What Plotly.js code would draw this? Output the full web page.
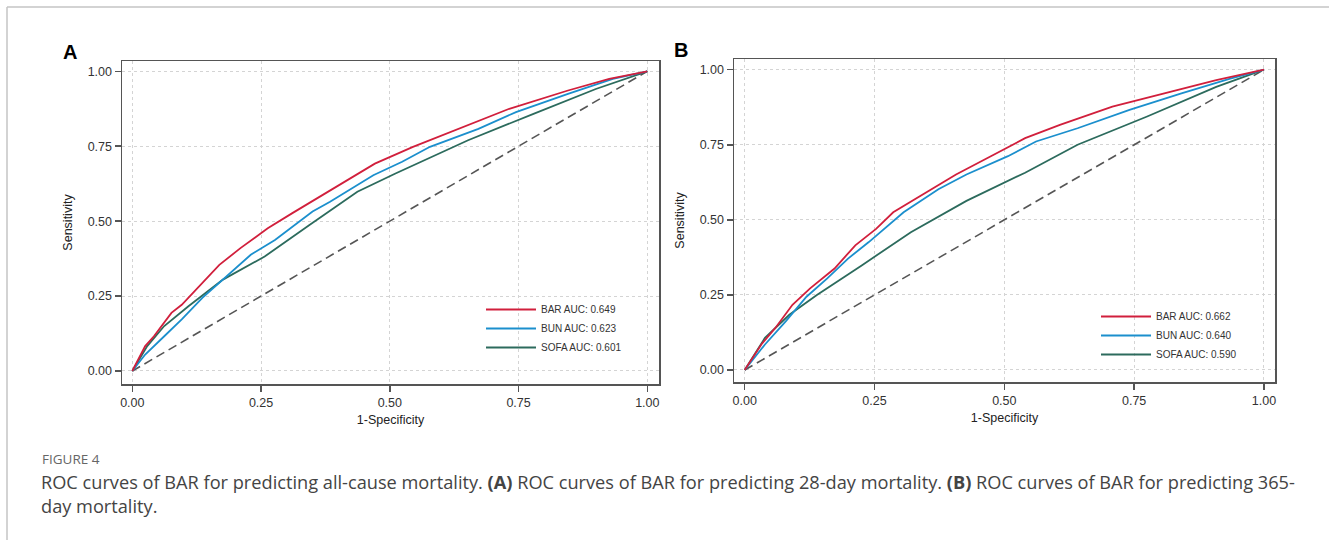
<!DOCTYPE html>
<html>
<head>
<meta charset="utf-8">
<script src="https://cdn.plot.ly/plotly-3.0.1.min.js"></script>
<style>
html,body{margin:0;padding:0;background:#fff;}
#chart{width:1329px;height:540px;}
</style>
</head>
<body>
<div id="chart"></div>
<script>
// ---------- Data ----------
const tickVals = [0, 0.25, 0.5, 0.75, 1];
const tickText = ["0.00", "0.25", "0.50", "0.75", "1.00"];

const refX = [0, 1];
const refY = [0, 1];

// Panel A: 28-day mortality
const A_BAR_x = [0, 0.025, 0.042, 0.076, 0.096, 0.129, 0.169, 0.210, 0.263, 0.310, 0.364, 0.417, 0.471, 0.545, 0.625, 0.732, 0.846, 0.926, 1];
const A_BAR_y = [0, 0.083, 0.116, 0.194, 0.221, 0.282, 0.354, 0.410, 0.476, 0.526, 0.581, 0.637, 0.692, 0.748, 0.803, 0.875, 0.936, 0.975, 1];
const A_BUN_x = [0, 0.025, 0.062, 0.096, 0.136, 0.176, 0.230, 0.277, 0.330, 0.350, 0.384, 0.444, 0.468, 0.524, 0.578, 0.672, 0.745, 0.846, 0.933, 1];
const A_BUN_y = [0, 0.055, 0.116, 0.172, 0.244, 0.305, 0.388, 0.437, 0.504, 0.532, 0.565, 0.626, 0.653, 0.698, 0.748, 0.808, 0.864, 0.925, 0.975, 1];
const A_SOFA_x = [0, 0.029, 0.062, 0.109, 0.176, 0.257, 0.344, 0.437, 0.511, 0.652, 0.779, 0.900, 1];
const A_SOFA_y = [0, 0.083, 0.150, 0.216, 0.305, 0.382, 0.487, 0.598, 0.659, 0.770, 0.858, 0.941, 1];

// Panel B: 365-day mortality
const B_BAR_x = [0, 0.032, 0.059, 0.092, 0.126, 0.173, 0.213, 0.253, 0.286, 0.340, 0.407, 0.474, 0.540, 0.607, 0.708, 0.808, 0.908, 1];
const B_BAR_y = [0, 0.085, 0.140, 0.217, 0.272, 0.338, 0.415, 0.470, 0.525, 0.580, 0.651, 0.712, 0.772, 0.816, 0.877, 0.921, 0.965, 1];
const B_BUN_x = [0, 0.039, 0.079, 0.119, 0.159, 0.199, 0.239, 0.306, 0.373, 0.427, 0.507, 0.561, 0.641, 0.741, 0.841, 0.935, 1];
const B_BUN_y = [0, 0.085, 0.162, 0.244, 0.305, 0.371, 0.426, 0.525, 0.602, 0.651, 0.712, 0.761, 0.805, 0.866, 0.921, 0.970, 1];
const B_SOFA_x = [0, 0.039, 0.086, 0.139, 0.226, 0.320, 0.427, 0.540, 0.641, 0.775, 0.908, 1];
const B_SOFA_y = [0, 0.107, 0.184, 0.250, 0.349, 0.459, 0.563, 0.657, 0.750, 0.844, 0.943, 1];

const namesA = ["BAR AUC: 0.649", "BUN AUC: 0.623", "SOFA AUC: 0.601"];
const namesB = ["BAR AUC: 0.662", "BUN AUC: 0.640", "SOFA AUC: 0.590"];

const panelLabels = ["A", "B"];
const axisTitleX = "1-Specificity";
const axisTitleY = "Sensitivity";
const figLabel = "FIGURE 4";
const captionLine1 = "ROC curves of BAR for predicting all-cause mortality. <b>(A)</b> ROC curves of BAR for predicting 28-day mortality. <b>(B)</b> ROC curves of BAR for predicting 365-";
const captionLine2 = "day mortality.";

// ---------- Styling ----------
const RED = "#d11f3c", BLUE = "#1b8fcd", GREEN = "#2c6b5d", DASH = "#555555";
const FONT = "Liberation Sans, Arial, sans-serif";

function tr(x, y, name, color, xa, ya, leg) {
  return {x: x, y: y, name: name, type: "scatter", mode: "lines",
    line: {color: color, width: 1.8}, xaxis: xa, yaxis: ya, legend: leg, hoverinfo: "skip"};
}
function diag(xa, ya) {
  return {x: refX, y: refY, type: "scatter", mode: "lines", showlegend: false,
    line: {color: DASH, width: 1.6, dash: "9px,5px"}, xaxis: xa, yaxis: ya, hoverinfo: "skip"};
}

const data = [
  diag("x", "y"),
  tr(A_SOFA_x, A_SOFA_y, namesA[2], GREEN, "x", "y", "legend"),
  tr(A_BUN_x, A_BUN_y, namesA[1], BLUE, "x", "y", "legend"),
  tr(A_BAR_x, A_BAR_y, namesA[0], RED, "x", "y", "legend"),
  diag("x2", "y2"),
  tr(B_SOFA_x, B_SOFA_y, namesB[2], GREEN, "x2", "y2", "legend2"),
  tr(B_BUN_x, B_BUN_y, namesB[1], BLUE, "x2", "y2", "legend2"),
  tr(B_BAR_x, B_BAR_y, namesB[0], RED, "x2", "y2", "legend2")
];

function xaxis(domain, range, anchor) {
  return {domain: domain, range: range, anchor: anchor, tickvals: tickVals, ticktext: tickText,
    showline: true, mirror: true, linecolor: "#555", linewidth: 1.5,
    ticks: "outside", ticklen: 6, tickwidth: 1.5, tickcolor: "#555",
    showgrid: true, gridcolor: "#d4d4d4", griddash: "dot", gridwidth: 1, zeroline: false,
    tickfont: {family: FONT, size: 12.5, color: "#333"}, automargin: false,
    title: {text: axisTitleX, font: {family: FONT, size: 12.5, color: "#222"}, standoff: 6}};
}
function yaxis(domain, range, anchor) {
  return {domain: domain, range: range, anchor: anchor, tickvals: tickVals, ticktext: tickText,
    showline: true, mirror: true, linecolor: "#555", linewidth: 1.5,
    ticks: "outside", ticklen: 6, tickwidth: 1.5, tickcolor: "#555",
    showgrid: true, gridcolor: "#d4d4d4", griddash: "dot", gridwidth: 1, zeroline: false,
    tickfont: {family: FONT, size: 12.5, color: "#333"}, automargin: false,
    title: {text: axisTitleY, font: {family: FONT, size: 12.5, color: "#222"}, standoff: 12}};
}

const W = 1329, H = 540;
const legendCommon = {xref: "paper", yref: "paper", xanchor: "left", yanchor: "top",
  bgcolor: "rgba(0,0,0,0)", borderwidth: 0, traceorder: "reversed",
  font: {family: FONT, size: 10, color: "#333"}, itemwidth: 50, tracegroupgap: 0};

const layout = {
  width: W, height: H,
  margin: {l: 0, r: 0, t: 0, b: 0},
  paper_bgcolor: "#fff", plot_bgcolor: "#fff",
  showlegend: true,
  xaxis: xaxis([122 / W, 659 / W], [-0.020, 1.0227], "y"),
  yaxis: yaxis([1 - 384 / H, 1 - 61 / H], [-0.0434, 1.0344], "x"),
  xaxis2: xaxis([734 / W, 1275 / W], [-0.0206, 1.0212], "y2"),
  yaxis2: yaxis([1 - 382 / H, 1 - 59 / H], [-0.040, 1.0356], "x2"),
  legend: Object.assign({}, legendCommon, {x: 481 / W, y: 1 - 295 / H}),
  legend2: Object.assign({}, legendCommon, {x: 1096 / W, y: 1 - 302 / H}),
  annotations: [
    {text: "<b>" + panelLabels[0] + "</b>", xref: "paper", yref: "paper", x: 70 / W, y: 1 - 52 / H,
      xanchor: "center", yanchor: "middle", showarrow: false, font: {family: FONT, size: 20, color: "#000"}},
    {text: "<b>" + panelLabels[1] + "</b>", xref: "paper", yref: "paper", x: 681 / W, y: 1 - 50 / H,
      xanchor: "center", yanchor: "middle", showarrow: false, font: {family: FONT, size: 20, color: "#000"}},
    {text: figLabel, xref: "paper", yref: "paper", x: 40 / W, y: 1 - 459 / H,
      xanchor: "left", yanchor: "middle", showarrow: false, font: {family: "Open Sans, sans-serif", size: 13.5, color: "#666"}},
    {text: captionLine1, xref: "paper", yref: "paper", x: 39 / W, y: 1 - 482 / H,
      xanchor: "left", yanchor: "middle", showarrow: false, font: {family: "Open Sans, sans-serif", size: 18.2, color: "#444"}},
    {text: captionLine2, xref: "paper", yref: "paper", x: 39 / W, y: 1 - 506 / H,
      xanchor: "left", yanchor: "middle", showarrow: false, font: {family: "Open Sans, sans-serif", size: 18.2, color: "#444"}}
  ],
  shapes: [
    {type: "line", xref: "paper", yref: "paper", x0: 7 / W, x1: 1, y0: 1 - 7 / H, y1: 1 - 7 / H, line: {color: "#c4c4c4", width: 1.5}},
    {type: "line", xref: "paper", yref: "paper", x0: 7 / W, x1: 7 / W, y0: 0, y1: 1 - 7 / H, line: {color: "#c4c4c4", width: 1.5}}
  ]
};

Plotly.newPlot("chart", data, layout, {staticPlot: true, displayModeBar: false});
</script>
</body>
</html>
